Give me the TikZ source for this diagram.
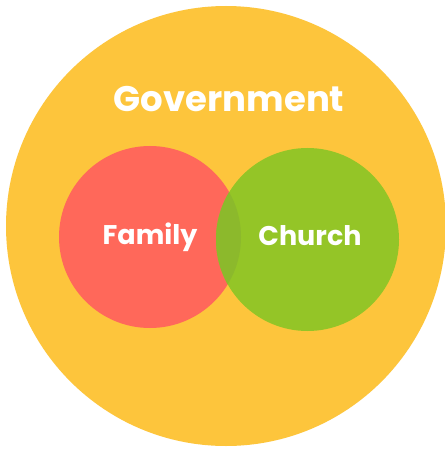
\documentclass[tikz,border=0pt]{standalone}
\usepackage{fontspec}
\setmainfont{Poppins}
\definecolor{govyellow}{HTML}{FDC53C}
\definecolor{famred}{HTML}{FF685A}
\definecolor{chgreen}{HTML}{94C527}
\definecolor{overlapgreen}{HTML}{8CB92C}
\begin{document}
\begin{tikzpicture}[x=1pt,y=-1pt,
  setcircle/.style={circle, inner sep=0pt, minimum size=#1},
  label/.style={text=white, font=\bfseries\fontsize{27}{27}\selectfont}]
\useasboundingbox (0,0) rectangle (444,449);
\fill[white] (0,0) rectangle (444,449);
% outer set
\node[setcircle=440pt, fill=govyellow] (gov) at (226,226) {};
% inner sets
\node[setcircle=182pt, fill=famred] (family) at (150,237) {};
\node[setcircle=183pt, fill=chgreen] (church) at (307.5,239.5) {};
% shared part of the two inner sets
\begin{scope}
  \clip (family.center) circle[radius=91pt];
  \fill[overlapgreen] (church.center) circle[radius=91.5pt];
\end{scope}
% labels
\node[label, font=\bfseries\fontsize{35.5}{35.5}\selectfont] (govlabel) at (229,99) {Government};
\node[label] (famlabel) at (150,237) {Family};
\node[label] (chlabel) at (310,236) {Church};
\end{tikzpicture}
\end{document}
